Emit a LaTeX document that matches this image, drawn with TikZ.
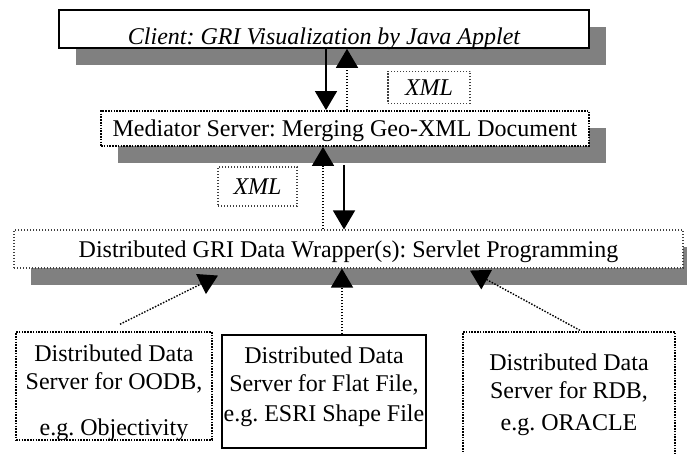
\documentclass[tikz,border=0pt]{standalone}
\usepackage{fontspec}
\setmainfont{Liberation Serif}
\usetikzlibrary{arrows.meta,shadows}
\frenchspacing

\definecolor{shadegray}{RGB}{128,128,128}

\tikzset{
  tier/.style={fill=white, inner xsep=0pt, inner ysep=0pt,
    drop shadow={shadow xshift=17pt, shadow yshift=-17pt, fill=shadegray, opacity=1}},
  densedot/.style={draw, line width=1.8pt, dash pattern=on 1.6pt off 1.2pt},
  lightdot/.style={draw=black!75, line width=1.1pt, dash pattern=on 1.2pt off 1.8pt},
  servertext/.style={align=center, anchor=north, inner sep=0pt},
  flow/.style={-{Triangle[length=19pt,width=22pt]}, line width=1.4pt},
  dotflow/.style={flow, dash pattern=on 1.5pt off 1.5pt},
}

\begin{document}
\begin{tikzpicture}[x=1pt, y=-1pt, font=\fontsize{24}{28}\selectfont]
  \useasboundingbox (0,0) rectangle (687,454);

  % three tiers
  \node[tier, draw, line width=1.6pt, minimum width=530pt, text height=35pt, text depth=3pt]
    (client) at (324,29) {\itshape Client: GRI Visualization by Java Applet};
  \node[tier, densedot, minimum width=488pt, text height=26pt, text depth=9pt]
    (med) at (345,128.5) {Mediator Server: Merging Geo-XML Document};
  \node[tier, lightdot, minimum width=669pt, text height=27pt, text depth=11pt]
    (wrap) at (348.5,249) {Distributed GRI Data Wrapper(s): Servlet Programming};

  % message labels
  \node[lightdot, minimum width=82pt, minimum height=32pt] (xmlA) at (429,87.5) {\itshape XML};
  \node[lightdot, minimum width=79pt, minimum height=39pt] (xmlB) at (257.5,186.5) {\itshape XML};

  % data servers
  \node[densedot, line width=1.5pt, minimum width=196pt, minimum height=108pt] (oodb) at (114,386) {};
  \node[draw, line width=1.5pt, minimum width=204pt, minimum height=113pt] (flat) at (324,391.5) {};
  \node[densedot, line width=1.3pt, minimum width=212pt, minimum height=132pt] (rdb) at (569,398) {};
  \node[servertext] (oodbtext) at (114,345) {Distributed Data\\Server for OODB,\\[18pt]e.g. Objectivity};
  \node[servertext] (flattext) at (324,347) {Distributed Data\\Server for Flat File,\\[2pt]e.g. ESRI Shape File};
  \node[servertext] (rdbtext) at (569,354) {Distributed Data\\Server for RDB,\\[4pt]e.g. ORACLE};

  \draw[flow]    ([xshift=2pt]client.south) -- ([xshift=-19pt]med.north);
  \draw[dotflow] ([xshift=2pt]med.north) -- ([xshift=23pt]client.south);

  \draw[dotflow] ([xshift=-25.5pt]wrap.north) -- ([xshift=-22pt]med.south);
  \draw[flow]    ([xshift=-1pt,yshift=-18pt]med.south) -- ([xshift=-4.5pt]wrap.north);

  \draw[dotflow] ([xshift=6pt,yshift=7pt]oodb.north) -- ([xshift=-130.5pt,yshift=-7pt]wrap.south);
  \draw[dotflow] ([xshift=18pt]flat.north) -- ([xshift=-6.5pt]wrap.south);
  \draw[dotflow] ([xshift=11pt,yshift=1pt]rdb.north) -- ([xshift=121.5pt,yshift=-2pt]wrap.south);
\end{tikzpicture}
\end{document}
